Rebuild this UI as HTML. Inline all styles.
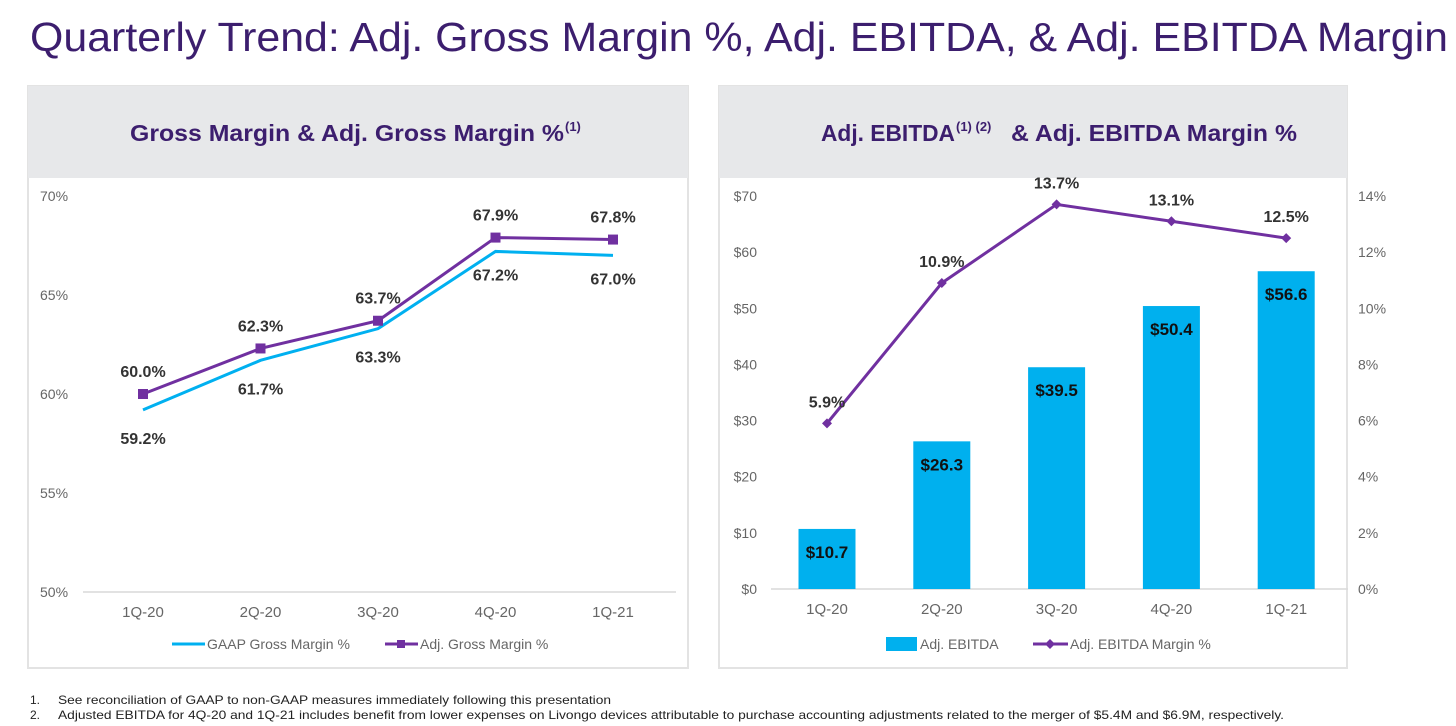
<!DOCTYPE html>
<html><head><meta charset="utf-8"><style>
html,body{margin:0;padding:0;background:#fff;width:1456px;height:726px;overflow:hidden}
svg{display:block;font-family:"Liberation Sans",sans-serif}
</style></head><body>
<svg id="s" width="1456" height="726" viewBox="0 0 1456 726" xmlns="http://www.w3.org/2000/svg">
<text x="30" y="51" font-size="41" fill="#3c1e6e" textLength="1418" lengthAdjust="spacingAndGlyphs">Quarterly Trend: Adj. Gross Margin %, Adj. EBITDA, &amp; Adj. EBITDA Margin</text>
<g>
<rect x="28" y="86" width="660" height="582" fill="#fff" stroke="#e3e3e3" stroke-width="2"/>
<rect x="28" y="86" width="660" height="92" fill="#e7e8ea"/>
<text x="130" y="141" font-size="23" font-weight="bold" fill="#3c1e6e" textLength="434" lengthAdjust="spacingAndGlyphs">Gross Margin &amp; Adj. Gross Margin %</text>
<text x="565" y="131" font-size="13" font-weight="bold" fill="#3c1e6e">(1)</text>
</g>
<g>
<rect x="719" y="86" width="628" height="582" fill="#fff" stroke="#e3e3e3" stroke-width="2"/>
<rect x="719" y="86" width="628" height="92" fill="#e7e8ea"/>
<text x="821" y="141" font-size="23" font-weight="bold" fill="#3c1e6e" textLength="134" lengthAdjust="spacingAndGlyphs">Adj. EBITDA</text>
<text x="956" y="131" font-size="13" font-weight="bold" fill="#3c1e6e">(1) (2)</text>
<text x="1011" y="141" font-size="23" font-weight="bold" fill="#3c1e6e" textLength="286" lengthAdjust="spacingAndGlyphs">&amp; Adj. EBITDA Margin %</text>
</g>
<g id="left"></g>
<g id="right"></g>
<text x="30" y="704" font-size="12" fill="#222">1.</text>
<text x="58" y="704" font-size="12" fill="#222" textLength="553" lengthAdjust="spacingAndGlyphs">See reconciliation of GAAP to non-GAAP measures immediately following this presentation</text>
<text x="30" y="719" font-size="12" fill="#222">2.</text>
<text x="58" y="719" font-size="12" fill="#222" textLength="1226" lengthAdjust="spacingAndGlyphs">Adjusted EBITDA for 4Q-20 and 1Q-21 includes benefit from lower expenses on Livongo devices attributable to purchase accounting adjustments related to the merger of $5.4M and $6.9M, respectively.</text>
</svg>
<script>
const categories = ["1Q-20","2Q-20","3Q-20","4Q-20","1Q-21"];
const gaapMargin = [59.2,61.7,63.3,67.2,67.0];
const adjGrossMargin = [60.0,62.3,63.7,67.9,67.8];
const leftTicks = [50,55,60,65,70];
const ebitda = [10.7,26.3,39.5,50.4,56.6];
const ebitdaMargin = [5.9,10.9,13.7,13.1,12.5];
const ebitdaTicks = [0,10,20,30,40,50,60,70];
const marginTicks = [0,2,4,6,8,10,12,14];

const NS="http://www.w3.org/2000/svg";
function mk(p,tag,attrs,txt){const e=document.createElementNS(NS,tag);for(const k in attrs)e.setAttribute(k,attrs[k]);if(txt!==undefined)e.textContent=txt;p.appendChild(e);return e;}

// Left chart
const L=document.getElementById('left');
const lx=i=>143+i*117.5;
const ly=v=>592-(v-50)*(396/20);
mk(L,'line',{x1:83,x2:676,y1:592,y2:592,stroke:'#d9d9d9','stroke-width':1.5});
leftTicks.forEach(t=>{const e=mk(L,'text',{x:40,y:ly(t)+5,'font-size':14,fill:'#666'},t+'%');

});
categories.forEach((c,i)=>{const e=mk(L,'text',{x:lx(i),y:617,'font-size':15,fill:'#666','text-anchor':'middle'},c);

});
const gl=mk(L,'polyline',{points:gaapMargin.map((v,i)=>lx(i)+','+ly(v)).join(' '),fill:'none',stroke:'#00b0f0','stroke-width':3});


const al=mk(L,'polyline',{points:adjGrossMargin.map((v,i)=>lx(i)+','+ly(v)).join(' '),fill:'none',stroke:'#7030a0','stroke-width':3});


adjGrossMargin.forEach((v,i)=>{const m=mk(L,'rect',{x:lx(i)-5,y:ly(v)-5,width:10,height:10,fill:'#7030a0'});


const t=mk(L,'text',{x:lx(i),y:ly(v)-17,'font-size':16,'font-weight':'bold',fill:'#333','text-anchor':'middle'},v.toFixed(1)+'%');

});
gaapMargin.forEach((v,i)=>{const off=(i==3||i==4)?29:34;
const t=mk(L,'text',{x:lx(i),y:ly(v)+off,'font-size':16,'font-weight':'bold',fill:'#333','text-anchor':'middle'},v.toFixed(1)+'%');

});
const lg1=mk(L,'g',{});
mk(lg1,'line',{x1:172,x2:205,y1:644,y2:644,stroke:'#00b0f0','stroke-width':3});
mk(lg1,'text',{x:207,y:649,'font-size':14,fill:'#666'},'GAAP Gross Margin %');
const lg2=mk(L,'g',{});
mk(lg2,'line',{x1:385,x2:418,y1:644,y2:644,stroke:'#7030a0','stroke-width':3});
mk(lg2,'rect',{x:397,y:640,width:8,height:8,fill:'#7030a0'});
mk(lg2,'text',{x:420,y:649,'font-size':14,fill:'#666'},'Adj. Gross Margin %');

// Right chart
const R=document.getElementById('right');
const rx=i=>827+i*114.8;
const ry=v=>589-v*(393/70);
const rm=v=>589-v*(393/14);
mk(R,'line',{x1:771,x2:1348,y1:589,y2:589,stroke:'#d9d9d9','stroke-width':1.5});
ebitdaTicks.forEach(t=>{const e=mk(R,'text',{x:757,y:ry(t)+5,'font-size':14,fill:'#666','text-anchor':'end'},'$'+t);

});
marginTicks.forEach(t=>{const e=mk(R,'text',{x:1358,y:rm(t)+5,'font-size':14,fill:'#666'},t+'%');

});
categories.forEach((c,i)=>{const e=mk(R,'text',{x:rx(i),y:614,'font-size':15,fill:'#666','text-anchor':'middle'},c);

});
ebitda.forEach((v,i)=>{const b=mk(R,'rect',{x:rx(i)-28.5,y:ry(v),width:57,height:589-ry(v),fill:'#00b0ee'});


const t=mk(R,'text',{x:rx(i),y:ry(v)+29,'font-size':17,'font-weight':'bold',fill:'#111','text-anchor':'middle'},'$'+v.toFixed(1));

});
const ml=mk(R,'polyline',{points:ebitdaMargin.map((v,i)=>rx(i)+','+rm(v)).join(' '),fill:'none',stroke:'#7030a0','stroke-width':3});


ebitdaMargin.forEach((v,i)=>{const m=mk(R,'polygon',{points:`${rx(i)-5},${rm(v)} ${rx(i)},${rm(v)-5} ${rx(i)+5},${rm(v)} ${rx(i)},${rm(v)+5}`,fill:'#7030a0'});


const t=mk(R,'text',{x:rx(i),y:rm(v)-16,'font-size':16,'font-weight':'bold',fill:'#333','text-anchor':'middle'},v.toFixed(1)+'%');

});
const rg1=mk(R,'g',{});
mk(rg1,'rect',{x:886,y:637,width:31,height:14,fill:'#00b0ee'});
mk(rg1,'text',{x:920,y:649,'font-size':14,fill:'#666'},'Adj. EBITDA');
const rg2=mk(R,'g',{});
mk(rg2,'line',{x1:1033,x2:1068,y1:644,y2:644,stroke:'#7030a0','stroke-width':3});
mk(rg2,'polygon',{points:'1045,644 1050,639 1055,644 1050,649',fill:'#7030a0'});
mk(rg2,'text',{x:1070,y:649,'font-size':14,fill:'#666'},'Adj. EBITDA Margin %');
</script>
</body></html>
